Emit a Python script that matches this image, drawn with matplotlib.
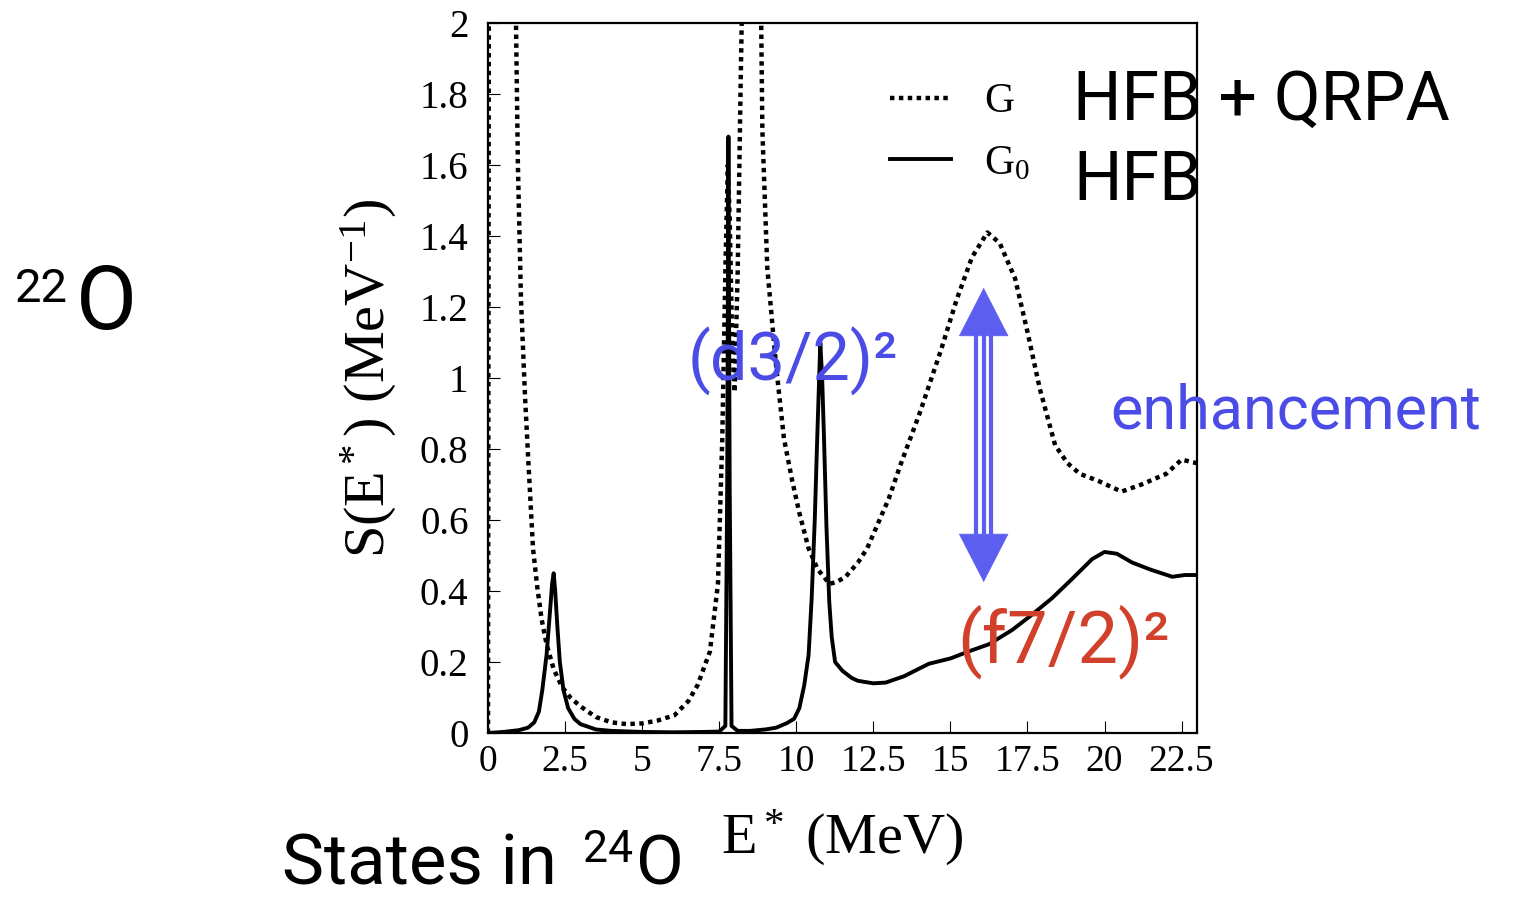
import matplotlib
matplotlib.use("Agg")
import matplotlib.pyplot as plt

W, H = 1515, 897

# G (HFB + QRPA), dotted curve
e_g = [0.0, 0.04, 0.9, 0.97, 1.07, 1.2, 1.3, 1.46, 1.6, 1.74, 1.9, 2.13, 2.4, 2.67,
       3.0, 3.5, 4.0, 4.5, 5.0, 5.5, 6.05, 6.5, 6.8, 7.2, 7.46, 7.6, 7.7, 7.78, 7.84,
       7.92, 8.0, 8.1, 8.2, 8.25, 8.55, 8.85, 8.9, 9.06, 9.35, 9.6, 9.87, 10.1, 10.4,
       10.7, 10.9, 11.07, 11.3, 11.6, 12.0, 12.3, 12.6, 13.0, 13.4, 14.0, 14.7, 15.2,
       15.7, 16.2, 16.6, 17.1, 17.5, 17.9, 18.4, 18.8, 19.2, 19.8, 20.55, 21.2, 22.0,
       22.5, 23.0]
s_g = [0.0, 3.0, 2.05, 1.6, 1.22, 0.95, 0.78, 0.52, 0.41, 0.32, 0.25, 0.18, 0.13, 0.1,
       0.075, 0.045, 0.03, 0.025, 0.027, 0.035, 0.05, 0.09, 0.135, 0.23, 0.42, 0.83, 1.3,
       1.6, 1.45, 1.1, 0.96, 1.3, 1.85, 2.1, 3.5, 2.1, 1.7, 1.31, 1.03, 0.83, 0.71, 0.62,
       0.52, 0.46, 0.44, 0.42, 0.425, 0.44, 0.48, 0.52, 0.58, 0.66, 0.76, 0.9, 1.08, 1.22,
       1.34, 1.41, 1.38, 1.28, 1.13, 0.97, 0.81, 0.76, 0.73, 0.71, 0.68, 0.7, 0.73,
       0.77, 0.76]

# G0 (HFB), solid curve
e_g0 = [0.0, 0.5, 1.0, 1.3, 1.5, 1.65, 1.76, 1.9, 2.0, 2.08, 2.13, 2.18, 2.25, 2.33,
        2.45, 2.6, 2.8, 3.0, 3.5, 4.0, 5.0, 6.0, 7.0, 7.5, 7.7, 7.76, 7.8, 7.84, 7.9,
        8.1, 8.5, 9.0, 9.35, 9.7, 9.93, 10.1, 10.26, 10.4, 10.5, 10.6, 10.68, 10.78,
        10.84, 10.9, 10.98, 11.07, 11.15, 11.26, 11.5, 11.8, 12.0, 12.5, 12.9, 13.5,
        14.3, 15.0, 15.6, 16.25, 17.0, 17.6, 18.3, 18.9, 19.6, 20.0, 20.4, 20.9, 21.5,
        22.2, 22.6, 23.0]
s_g0 = [0.0, 0.003, 0.008, 0.015, 0.03, 0.06, 0.12, 0.22, 0.33, 0.42, 0.45, 0.4, 0.3,
        0.2, 0.12, 0.07, 0.04, 0.025, 0.01, 0.006, 0.003, 0.002, 0.003, 0.004, 0.02, 0.7,
        1.68, 0.7, 0.02, 0.006, 0.006, 0.01, 0.015, 0.028, 0.04, 0.07, 0.135, 0.22, 0.38,
        0.6, 0.83, 1.10, 1.0, 0.83, 0.58, 0.37, 0.27, 0.2, 0.175, 0.155, 0.147, 0.14,
        0.142, 0.16, 0.195, 0.21, 0.23, 0.25, 0.29, 0.33, 0.38, 0.43, 0.49, 0.51, 0.505,
        0.48, 0.46, 0.44, 0.445, 0.445]

xticks = [0, 2.5, 5, 7.5, 10, 12.5, 15, 17.5, 20, 22.5]
xticklabels = ["0", "2.5", "5", "7.5", "10", "12.5", "15", "17.5", "20", "22.5"]
yticks = [0, 0.2, 0.4, 0.6, 0.8, 1, 1.2, 1.4, 1.6, 1.8, 2]
yticklabels = ["0", "0.2", "0.4", "0.6", "0.8", "1", "1.2", "1.4", "1.6", "1.8", "2"]

# double arrow (enhancement) in data units
arrow_x = 16.08
arrow_top = 1.254
arrow_bot = 0.425

plt.rcParams['mathtext.fontset'] = 'custom'
plt.rcParams['mathtext.rm'] = 'Liberation Serif'
plt.rcParams['mathtext.it'] = 'Liberation Serif:italic'

serif = 'Liberation Serif'
hand = 'Roboto'
blue = '#4b4be6'
arrow_blue = '#5c5ef0'
red = '#d0402a'

fig = plt.figure(figsize=(W / 100, H / 100), dpi=100)
ax = fig.add_axes([488 / W, 1 - 733 / H, (1197 - 488) / W, (733 - 23) / H])

ax.plot(e_g, s_g, color='black', lw=3.2, linestyle=(0, (1, 1.0)),
        dash_capstyle='butt', label='G')
ax.plot(e_g0, s_g0, color='black', lw=2.8, label='G$_0$')

ax.set_xlim(0, 23)
ax.set_ylim(0, 2)
ax.set_xticks(xticks)
ax.set_xticklabels(xticklabels, fontfamily=serif, fontsize=27)
ax.set_yticks(yticks)
ax.set_yticklabels(yticklabels, fontfamily=serif, fontsize=28)
ax.tick_params(direction='in', length=8.5, width=0.8, pad=8)
ax.tick_params(axis='y', pad=14)
for sp in ax.spines.values():
    sp.set_linewidth(1.6)

ax.set_xlabel('E$^*$ (MeV)', fontfamily=serif, fontsize=42)
ax.xaxis.set_label_coords(0.5, -0.105)
ax.set_ylabel('S(E$^*$) (MeV$^{-1}$)', fontfamily=serif, fontsize=42)
ax.yaxis.set_label_coords(-0.125, 0.5)

leg = ax.legend(loc='upper left', bbox_to_anchor=(0.538, 0.945), frameon=False,
                prop={'family': serif, 'size': 30}, handlelength=1.45,
                handletextpad=0.8, labelspacing=0.55, borderpad=0)

# enhancement arrow: heads plus a triple-line shaft
ax.annotate('', xy=(arrow_x, arrow_top), xytext=(arrow_x, arrow_bot),
            arrowprops=dict(arrowstyle='<|-|>,head_length=34,head_width=17.5',
                            mutation_scale=1, color=arrow_blue, lw=0.5,
                            shrinkA=0, shrinkB=0))
for dx in (-0.245, 0.0, 0.245):
    ax.plot([arrow_x + dx, arrow_x + dx], [0.56, 1.12], color=arrow_blue, lw=3,
            solid_capstyle='butt')


def px(x, y):
    return x / W, 1 - y / H


fig.text(*px(1073, 120), 'HFB + QRPA', fontfamily=hand, fontsize=49, va='baseline')
fig.text(*px(1073, 200), 'HFB', fontfamily=hand, fontsize=49, va='baseline')
fig.text(*px(15, 302), '22', fontfamily=hand, fontsize=34, va='baseline')
fig.text(*px(76, 329), 'O', fontfamily=hand, fontsize=64, va='baseline')
fig.text(*px(282, 884), 'States in', fontfamily=hand, fontsize=51, va='baseline')
fig.text(*px(583, 862), '24', fontfamily=hand, fontsize=32, va='baseline')
fig.text(*px(636, 884), 'O', fontfamily=hand, fontsize=50, va='baseline')
fig.text(*px(688, 381), '(d3/2)²', fontfamily=hand, fontsize=48, va='baseline', color=blue)
fig.text(*px(1110, 428), 'enhancement', fontfamily=hand, fontsize=44, va='baseline', color=blue)
fig.text(*px(957, 662), '(f7/2)²', fontfamily=hand, fontsize=52, va='baseline', color=red)

fig.savefig('out.png', dpi=100)
